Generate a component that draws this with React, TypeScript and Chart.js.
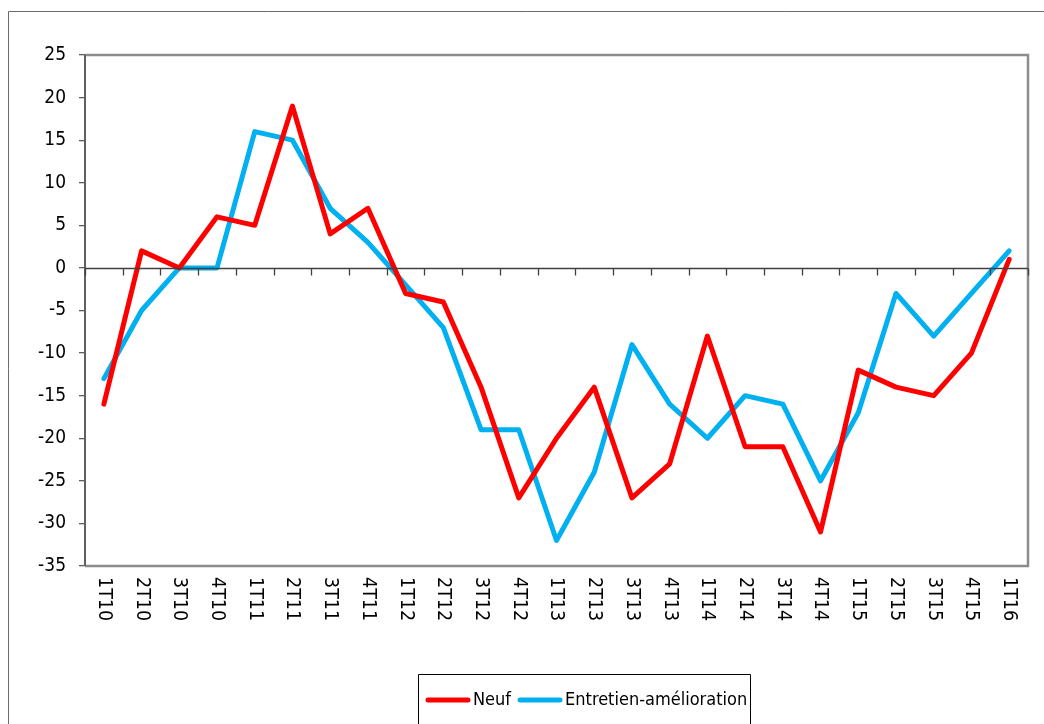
import React, { useEffect, useRef } from "react";
import { Chart, registerables } from "chart.js";

Chart.register(...registerables);

const categories = [
  "1T10", "2T10", "3T10", "4T10", "1T11", "2T11", "3T11", "4T11",
  "1T12", "2T12", "3T12", "4T12", "1T13", "2T13", "3T13", "4T13",
  "1T14", "2T14", "3T14", "4T14", "1T15", "2T15", "3T15", "4T15", "1T16",
];
const neuf = [-16, 2, 0, 6, 5, 19, 4, 7, -3, -4, -14, -27, -20, -14, -27, -23, -8, -21, -21, -31, -12, -14, -15, -10, 1];
const entretien = [-13, -5, 0, 0, 16, 15, 7, 3, -2, -7, -19, -19, -32, -24, -9, -16, -20, -15, -16, -25, -17, -3, -8, -3, 2];
const seriesNames = ["Neuf", "Entretien-amélioration"];
const seriesColors = ["#FF0000", "#00B0F0"];

const FONT = '"DejaVu Sans Condensed", "Liberation Sans Narrow", sans-serif';

const framePlugin = {
  id: "framePlugin",
  beforeDraw(chart: any) {
    const ctx = chart.ctx;
    ctx.save();
    ctx.strokeStyle = "#6b6b6b";
    ctx.lineWidth = 1;
    ctx.beginPath();
    ctx.moveTo(8.5, 740);
    ctx.lineTo(8.5, 11.5);
    ctx.lineTo(1100, 11.5);
    ctx.stroke();
    ctx.restore();
  },
  afterDatasetsDraw(chart: any) {
    const ctx = chart.ctx;
    const { left, right, top, bottom } = chart.chartArea;
    ctx.save();
    ctx.strokeStyle = "#8c8c8c";
    ctx.lineWidth = 2.5;
    ctx.beginPath();
    ctx.moveTo(left, top);
    ctx.lineTo(right, top);
    ctx.lineTo(right, bottom);
    ctx.lineTo(left, bottom);
    ctx.stroke();
    ctx.strokeStyle = "#606060";
    ctx.lineWidth = 2;
    ctx.beginPath();
    ctx.moveTo(left, top);
    ctx.lineTo(left, bottom);
    ctx.stroke();
    ctx.restore();
  },
  afterDraw(chart: any) {
    const ctx = chart.ctx;
    const { left, right, bottom } = chart.chartArea;
    const x = chart.scales.x;
    const y = chart.scales.y;
    const y0 = Math.round(y.getPixelForValue(0)) + 0.5;
    ctx.save();
    ctx.strokeStyle = "#404040";
    ctx.lineWidth = 1.3;
    ctx.beginPath();
    ctx.moveTo(left, y0);
    ctx.lineTo(right, y0);
    const n = categories.length;
    const step = (right - left) / n;
    for (let i = 0; i <= n; i++) {
      const px = Math.round(left + i * step) + 0.5;
      ctx.moveTo(px, y0);
      ctx.lineTo(px, y0 + 7);
    }
    ctx.stroke();
    ctx.fillStyle = "#000";
    ctx.font = `19.5px ${FONT}`;
    ctx.textAlign = "left";
    ctx.textBaseline = "middle";
    for (let i = 0; i < n; i++) {
      const px = x.getPixelForValue(i);
      ctx.save();
      ctx.translate(px, bottom + 11);
      ctx.rotate(Math.PI / 2);
      ctx.fillText(categories[i], 0, 0);
      ctx.restore();
    }
    ctx.font = `18px ${FONT}`;
    const ly = 700;
    let cx = 426;
    const boxLeft = 418;
    ctx.lineCap = "round";
    for (let s = 0; s < seriesNames.length; s++) {
      ctx.strokeStyle = seriesColors[s];
      ctx.lineWidth = 5;
      ctx.beginPath();
      ctx.moveTo(cx + 2, ly);
      ctx.lineTo(cx + 42, ly);
      ctx.stroke();
      cx += 47;
      ctx.fillStyle = "#000";
      ctx.textAlign = "left";
      ctx.textBaseline = "middle";
      ctx.fillText(seriesNames[s], cx, ly);
      cx += ctx.measureText(seriesNames[s]).width + 7;
    }
    const boxRight = cx - 4;
    ctx.strokeStyle = "#000";
    ctx.lineWidth = 1;
    ctx.lineCap = "butt";
    ctx.beginPath();
    ctx.moveTo(boxLeft + 0.5, 740);
    ctx.lineTo(boxLeft + 0.5, 674.5);
    ctx.lineTo(Math.round(boxRight) + 0.5, 674.5);
    ctx.lineTo(Math.round(boxRight) + 0.5, 740);
    ctx.stroke();
    ctx.restore();
  },
};

export default function App() {
  const ref = useRef<HTMLCanvasElement | null>(null);
  useEffect(() => {
    if (!ref.current) return;
    const chart = new Chart(ref.current, {
      type: "line",
      data: {
        labels: categories,
        datasets: [
          {
            label: seriesNames[0],
            data: neuf,
            borderColor: seriesColors[0],
            backgroundColor: seriesColors[0],
            borderWidth: 5,
            pointRadius: 0,
            borderJoinStyle: "round",
            borderCapStyle: "round",
            tension: 0,
          },
          {
            label: seriesNames[1],
            data: entretien,
            borderColor: seriesColors[1],
            backgroundColor: seriesColors[1],
            borderWidth: 5,
            pointRadius: 0,
            borderJoinStyle: "round",
            borderCapStyle: "round",
            tension: 0,
          },
        ],
      },
      options: {
        animation: false,
        responsive: false,
        maintainAspectRatio: false,
        layout: { padding: { left: 0, top: 55, right: 16, bottom: 158 } },
        plugins: { legend: { display: false }, tooltip: { enabled: false } },
        scales: {
          x: {
            type: "category",
            display: false,
            offset: true,
          },
          y: {
            min: -35,
            max: 25,
            afterFit: (scale: any) => {
              scale.width = 85;
            },
            ticks: {
              stepSize: 5,
              color: "#000",
              font: { family: FONT, size: 19 },
              padding: 13,
            },
            grid: {
              drawOnChartArea: false,
              drawTicks: true,
              tickLength: 6,
              color: "#606060",
              lineWidth: 1.3,
            },
            border: { display: true, color: "#606060", width: 2 },
          },
        },
      },
      plugins: [framePlugin],
    });
    return () => chart.destroy();
  }, []);
  return (
    <div style={{ position: "fixed", left: 0, top: 0, width: 1044, height: 724, background: "#fff" }}>
      <canvas ref={ref} width={1044} height={724} style={{ width: 1044, height: 724, display: "block" }} />
    </div>
  );
}
